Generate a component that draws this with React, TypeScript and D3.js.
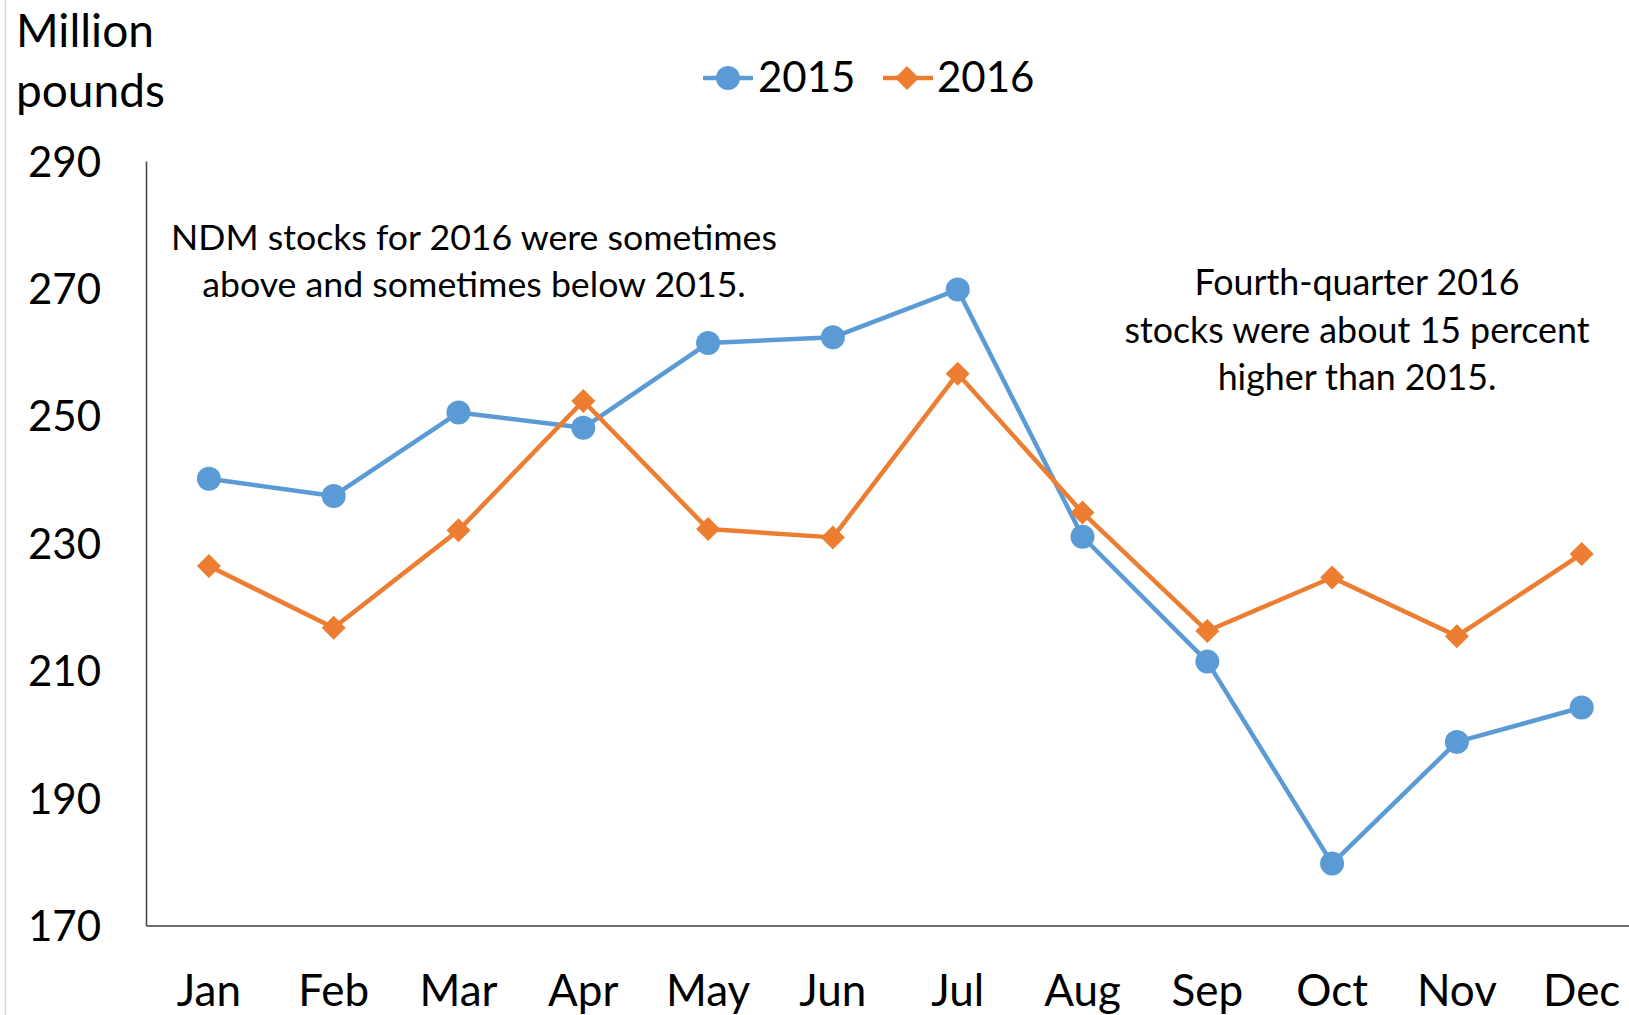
import React from "react";
import * as d3 from "d3";

const months = ["Jan", "Feb", "Mar", "Apr", "May", "Jun", "Jul", "Aug", "Sep", "Oct", "Nov", "Dec"];
const stocks2015 = [240.2, 237.5, 250.6, 248.2, 261.5, 262.4, 269.9, 231.1, 211.5, 179.8, 198.9, 204.3];
const stocks2016 = [226.5, 216.8, 232.1, 252.4, 232.3, 231.0, 256.7, 234.9, 216.3, 224.7, 215.5, 228.4];
const yTicks = [170, 190, 210, 230, 250, 270, 290];
const seriesNames = ["2015", "2016"];
const unitLines = ["Million", "pounds"];
const noteLeft = ["NDM stocks for 2016 were sometimes", "above and sometimes below 2015."];
const noteRight = ["Fourth-quarter 2016", "stocks were about 15 percent", "higher than 2015."];

const BLUE = "#5B9BD5";
const ORANGE = "#ED7D31";
const FONT = "Lato, 'Open Sans', sans-serif";

export default function App() {
  const W = 1629, H = 1015;
  const x = d3.scaleBand<string>().domain(months).range([146.5, 146.5 + 12 * 124.8]);
  const y = d3.scaleLinear().domain([170, 290]).range([926, 161.5]);
  const cx = (m: string) => (x(m) as number) + x.bandwidth() / 2;
  const line = d3.line<number>().x((_, i) => cx(months[i])).y((v) => y(v));
  const diamond = (px: number, py: number, r: number) =>
    `M${px},${py - r}L${px + r},${py}L${px},${py + r}L${px - r},${py}Z`;

  return (
    <svg width={W} height={H} style={{ position: "absolute", left: 0, top: 0, background: "#fff" }} fontFamily={FONT}>
      <line x1={5.5} x2={5.5} y1={0} y2={H} stroke="#D9D9D9" strokeWidth={1.5} />
      {/* unit label */}
      {unitLines.map((t, i) => (
        <text key={t} x={16} y={47 + i * 60} fontSize={46} fill="#000">{t}</text>
      ))}
      {/* legend */}
      <g>
        <line x1={703} x2={753} y1={78} y2={78} stroke={BLUE} strokeWidth={4.5} />
        <circle cx={728} cy={78} r={12} fill={BLUE} />
        <text x={758} y={92} fontSize={42} fill="#000">{seriesNames[0]}</text>
        <line x1={883} x2={933} y1={78} y2={78} stroke={ORANGE} strokeWidth={4.5} />
        <path d={diamond(907, 78, 12)} fill={ORANGE} />
        <text x={937} y={92} fontSize={42} fill="#000">{seriesNames[1]}</text>
      </g>
      {/* y tick labels */}
      {yTicks.map((t) => (
        <text key={t} x={101} y={y(t)} dy="0.36em" textAnchor="end" fontSize={42} fill="#000">{t}</text>
      ))}
      {/* x labels */}
      {months.map((m) => (
        <text key={m} x={cx(m)} y={1006} textAnchor="middle" fontSize={44} fill="#000">{m}</text>
      ))}
      {/* axes */}
      <line x1={146.5} x2={W} y1={926} y2={926} stroke="#404040" strokeWidth={1.5} />
      <line x1={146.5} x2={146.5} y1={161.5} y2={926} stroke="#404040" strokeWidth={1.5} />
      {/* annotations */}
      {noteLeft.map((t, i) => (
        <text key={t} x={474} y={250 + i * 47} textAnchor="middle" fontSize={35.7} fill="#000">{t}</text>
      ))}
      {noteRight.map((t, i) => (
        <text key={t} x={1357} y={295 + i * 47.5} textAnchor="middle" fontSize={35.8} fill="#000">{t}</text>
      ))}
      {/* series */}
      <path d={line(stocks2015) || ""} fill="none" stroke={BLUE} strokeWidth={4.5} strokeLinejoin="round" />
      {stocks2015.map((v, i) => (
        <circle key={i} cx={cx(months[i])} cy={y(v)} r={12} fill={BLUE} />
      ))}
      <path d={line(stocks2016) || ""} fill="none" stroke={ORANGE} strokeWidth={4.5} strokeLinejoin="round" />
      {stocks2016.map((v, i) => (
        <path key={i} d={diamond(cx(months[i]), y(v), 12)} fill={ORANGE} />
      ))}
    </svg>
  );
}
